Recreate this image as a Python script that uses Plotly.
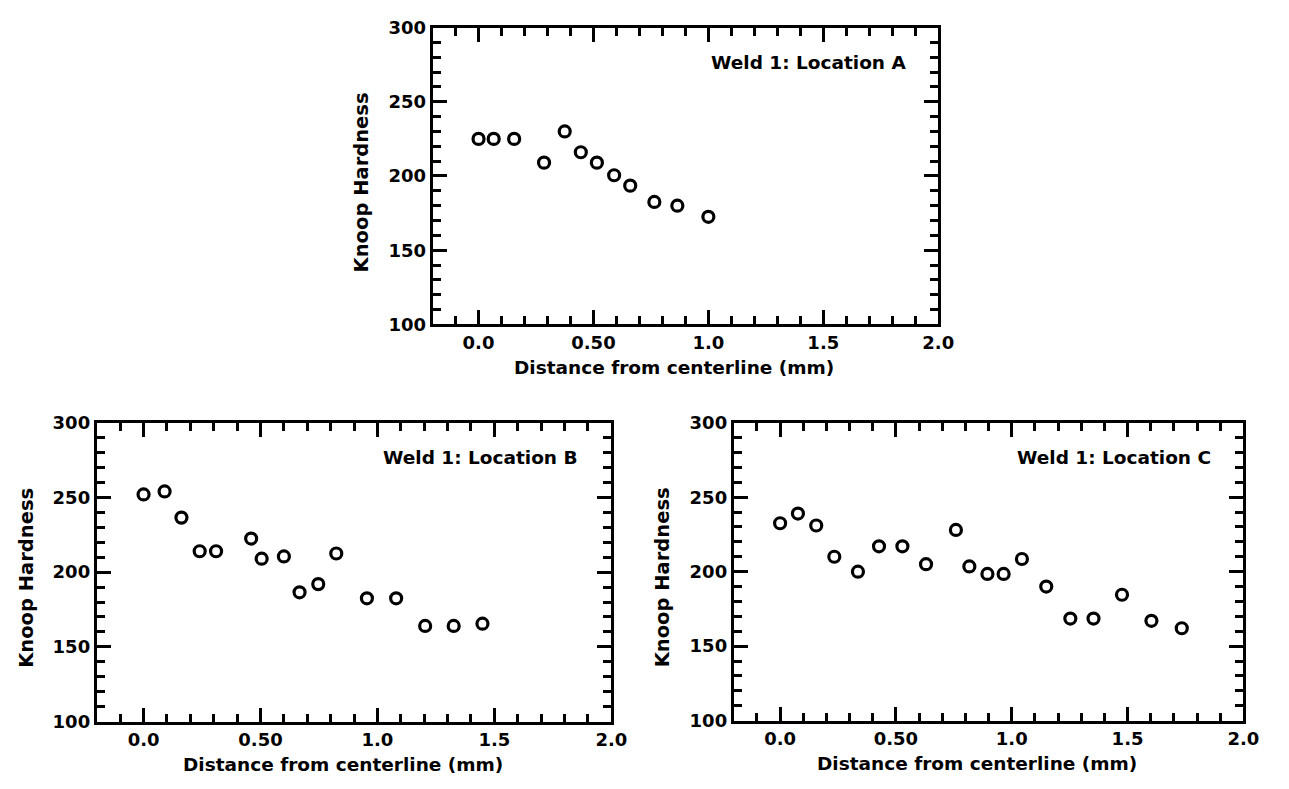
import plotly.graph_objects as go

# Knoop hardness traverses, Weld 1
dist_a = [0.0, 0.066, 0.155, 0.285, 0.375, 0.445, 0.515, 0.59, 0.66, 0.765, 0.865, 1.0]
hard_a = [225, 225, 225, 209, 230, 216, 209, 200.5, 193.5, 182.5, 180, 172.5]

dist_b = [0.0, 0.09, 0.162, 0.24, 0.31, 0.46, 0.505, 0.6, 0.667, 0.747, 0.824, 0.955,
          1.08, 1.204, 1.326, 1.449]
hard_b = [252, 254, 236.5, 214, 214, 222.5, 209, 210.5, 186.5, 192, 212.5, 182.5,
          182.5, 164, 164, 165.5]

dist_c = [0.0, 0.077, 0.156, 0.234, 0.336, 0.427, 0.528, 0.63, 0.759, 0.817, 0.895,
          0.965, 1.044, 1.149, 1.253, 1.353, 1.476, 1.603, 1.734]
hard_c = [232.5, 239, 231, 210, 200, 217, 217, 205, 228, 203.5, 198.5, 198.5, 208.5,
          190, 168.5, 168.5, 184.5, 167, 162]

panel_titles = ["Weld 1: Location A", "Weld 1: Location B", "Weld 1: Location C"]
x_title = "Distance from centerline (mm)"
y_title = "Knoop Hardness"
x_tickvals = [0.0, 0.5, 1.0, 1.5, 2.0]
x_ticktext = ["0.0", "0.50", "1.0", "1.5", "2.0"]
y_tickvals = [100, 150, 200, 250, 300]

W, H = 1289, 789
FONT = "DejaVu Sans, Liberation Sans, Arial, sans-serif"

# plot boxes in pixels: left, right, top, bottom
boxes = [(438, 950, 17, 322), (98, 619, 423, 730), (743, 1259, 423, 729)]
series = [(dist_a, hard_a), (dist_b, hard_b), (dist_c, hard_c)]


def bold(size):
    return dict(family=FONT, size=size, color="black", weight="bold")


fig = go.Figure()

for i, ((x, y), (l, r, t, b), title) in enumerate(zip(series, boxes, panel_titles)):
    n = "" if i == 0 else str(i + 1)
    fig.add_trace(go.Scatter(
        x=x, y=y, mode="markers", xaxis="x" + n, yaxis="y" + n,
        marker=dict(symbol="circle-open", size=11, color="black",
                    line=dict(width=3.2, color="black")),
        showlegend=False, hoverinfo="skip",
    ))
    common = dict(
        showgrid=False, zeroline=False, showline=True, linecolor="black",
        linewidth=3, mirror="ticks", ticks="inside", ticklen=14, tickwidth=2.6,
        tickcolor="black", tickfont=bold(18),
    )
    fig.layout["xaxis" + n] = dict(
        common, domain=[l / W, r / W], anchor="y" + n, range=[-0.2, 2.0],
        tickvals=x_tickvals, ticktext=x_ticktext,
        minor=dict(dtick=0.1, tick0=0, ticks="inside", ticklen=8, tickwidth=2.6,
                   tickcolor="black", showgrid=False),
    )
    fig.layout["yaxis" + n] = dict(
        common, domain=[1 - b / H, 1 - t / H], anchor="x" + n, range=[100, 300],
        tickvals=y_tickvals,
        minor=dict(dtick=10, tick0=100, ticks="inside", ticklen=8, tickwidth=2.6,
                   tickcolor="black", showgrid=False),
    )
    xd, yd = "x" + n + " domain", "y" + n + " domain"
    # axis titles
    fig.add_annotation(
        text=x_title, xref=xd, yref=yd, x=0.478, y=-44 / (b - t),
        xanchor="center", yanchor="middle", showarrow=False, font=bold(18.5),
    )
    fig.add_annotation(
        text=y_title, xref=xd, yref=yd, x=-72 / (r - l), y=0.48, textangle=-90,
        xanchor="center", yanchor="middle", showarrow=False, font=bold(19.5),
    )
    # panel label
    fig.add_annotation(
        text=title, xref=xd, yref=yd, x=0.94, y=0.883,
        xanchor="right", yanchor="middle", showarrow=False, font=bold(18.5),
    )

fig.update_layout(
    width=W, height=H, margin=dict(l=0, r=0, t=0, b=0),
    paper_bgcolor="white", plot_bgcolor="white",
)

fig.write_html("out.html")
